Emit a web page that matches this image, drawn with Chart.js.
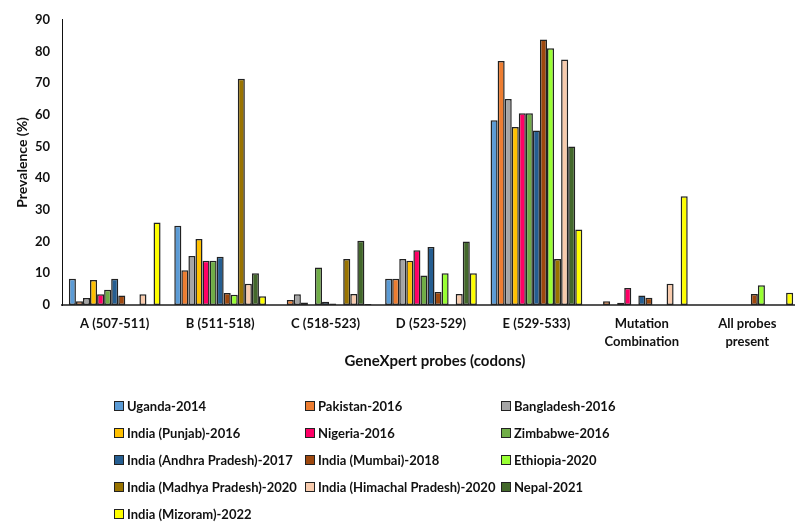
<!DOCTYPE html>
<html>
<head>
<meta charset="utf-8">
<script src="https://cdn.jsdelivr.net/npm/chart.js@4.4.1/dist/chart.umd.min.js"></script>
<style>
  html, body { margin: 0; padding: 0; background: #fff; overflow: hidden; }
  #wrap { position: relative; width: 800px; height: 522px; }
  #legend { position: absolute; left: 114px; top: 399px; font-family: Lato, "Open Sans", sans-serif; font-weight: bold; font-size: 13px; color: #111; }
  .item { position: absolute; white-space: nowrap; display: flex; align-items: center; height: 14px; }
  .box { width: 8px; height: 8px; border: 1px solid #222; margin-right: 3px; }
</style>
</head>
<body>
<div id="wrap">
  <canvas id="chart" width="800" height="522"></canvas>
  <div id="legend"></div>
</div>
<script>
// GeneXpert probe categories (codon ranges)
const categories = ['A (507-511)', 'B (511-518)', 'C (518-523)', 'D (523-529)', 'E (529-533)', ['Mutation', 'Combination'], ['All probes', 'present']];

// Prevalence (%) per study, one value per probe category
const uganda2014     = [8.3, 25.0, 0,   8.3, 58.3, 0,   0];
const pakistan2016   = [1.2, 11.0, 1.6, 8.3, 77.0, 1.2, 0];
const bangladesh2016 = [2.2, 15.5, 3.4, 14.5, 65.0, 0,  0];
const punjab2016     = [7.9, 20.8, 0.8, 14.0, 56.2, 0.7, 0];
const nigeria2016    = [3.4, 14.0, 0,   17.3, 60.5, 5.4, 0];
const zimbabwe2016   = [4.8, 14.0, 11.8, 9.3, 60.5, 0,  0];
const andhra2017     = [8.3, 15.2, 1.0, 18.3, 55.1, 3.0, 0];
const mumbai2018     = [3.0, 3.8, 0.5, 4.1, 83.8, 2.3, 3.5];
const ethiopia2020   = [0,   3.2, 0,   10.0, 81.0, 0,  6.2];
const madhya2020     = [0,   71.4, 14.5, 0,  14.5, 0,  0];
const himachal2020   = [3.4, 6.7, 3.5, 3.5, 77.5, 6.7, 0];
const nepal2021      = [0,   10.0, 20.3, 20.0, 50.0, 0, 0];
const mizoram2022    = [26.0, 2.8, 0.3, 10.0, 23.8, 34.3, 3.9];

const seriesNames = ['Uganda-2014', 'Pakistan-2016', 'Bangladesh-2016', 'India (Punjab)-2016', 'Nigeria-2016', 'Zimbabwe-2016',
  'India (Andhra Pradesh)-2017', 'India (Mumbai)-2018', 'Ethiopia-2020', 'India (Madhya Pradesh)-2020',
  'India (Himachal Pradesh)-2020', 'Nepal-2021', 'India (Mizoram)-2022'];
const seriesValues = [uganda2014, pakistan2016, bangladesh2016, punjab2016, nigeria2016, zimbabwe2016,
  andhra2017, mumbai2018, ethiopia2020, madhya2020, himachal2020, nepal2021, mizoram2022];
const seriesColors = ['#5B9BD5', '#ED7D31', '#A5A5A5', '#FFC000', '#FF0066', '#70AD47',
  '#255E91', '#9E480E', '#99FF33', '#997300', '#F8CBAD', '#43682B', '#FFFF00'];

const yTicks = [0, 10, 20, 30, 40, 50, 60, 70, 80, 90];

const FONT = 'Lato, "Open Sans", sans-serif';

const datasets = seriesNames.map((name, i) => ({
  label: name,
  data: seriesValues[i],
  backgroundColor: seriesColors[i],
  borderColor: '#222',
  borderWidth: 1.5,
  borderSkipped: false,
  categoryPercentage: 0.87,
  barPercentage: 1.0
}));

// x-axis title drawn below the category labels
const xTitlePlugin = {
  id: 'xTitle',
  afterDraw(chart) {
    const ctx = chart.ctx;
    ctx.save();
    ctx.font = 'bold 15px ' + FONT;
    ctx.fillStyle = '#111';
    ctx.textAlign = 'center';
    ctx.textBaseline = 'middle';
    ctx.fillText('GeneXpert probes (codons)', 435, 361);
    ctx.restore();
  }
};

new Chart(document.getElementById('chart'), {
  type: 'bar',
  data: { labels: categories, datasets },
  options: {
    responsive: false,
    animation: false,
    layout: { padding: { top: 14, right: 0, bottom: 157, left: 0 } },
    plugins: { legend: { display: false }, tooltip: { enabled: false } },
    scales: {
      x: {
        grid: { display: false, drawTicks: false },
        border: { display: true, color: '#555', width: 2 },
        ticks: {
          color: '#111', padding: 10, maxRotation: 0, autoSkip: false,
          font: { family: FONT, weight: 'bold', size: 13, lineHeight: 1.35 }
        },
        afterFit(scale) { scale.height = 60; }
      },
      y: {
        min: 0, max: 90,
        afterBuildTicks(scale) { scale.ticks = yTicks.map(v => ({ value: v })); },
        grid: { display: false, drawTicks: false },
        border: { display: true, color: '#111', width: 1 },
        ticks: {
          color: '#111', padding: 12,
          font: { family: FONT, weight: 'bold', size: 13 }
        },
        title: {
          display: true, text: 'Prevalence (%)', color: '#111', padding: { top: 14, bottom: 0 },
          font: { family: FONT, weight: 'bold', size: 14 }
        },
        afterFit(scale) { scale.width = 62; }
      }
    }
  },
  plugins: [xTitlePlugin]
});

// Legend laid out in three columns
const legend = document.getElementById('legend');
const colX = [0, 191, 387];
const rowH = 27;
seriesNames.forEach((name, i) => {
  const item = document.createElement('div');
  item.className = 'item';
  item.style.left = colX[i % 3] + 'px';
  item.style.top = Math.floor(i / 3) * rowH + 'px';
  const box = document.createElement('span');
  box.className = 'box';
  box.style.background = seriesColors[i];
  item.appendChild(box);
  item.appendChild(document.createTextNode(name));
  legend.appendChild(item);
});
</script>
</body>
</html>
